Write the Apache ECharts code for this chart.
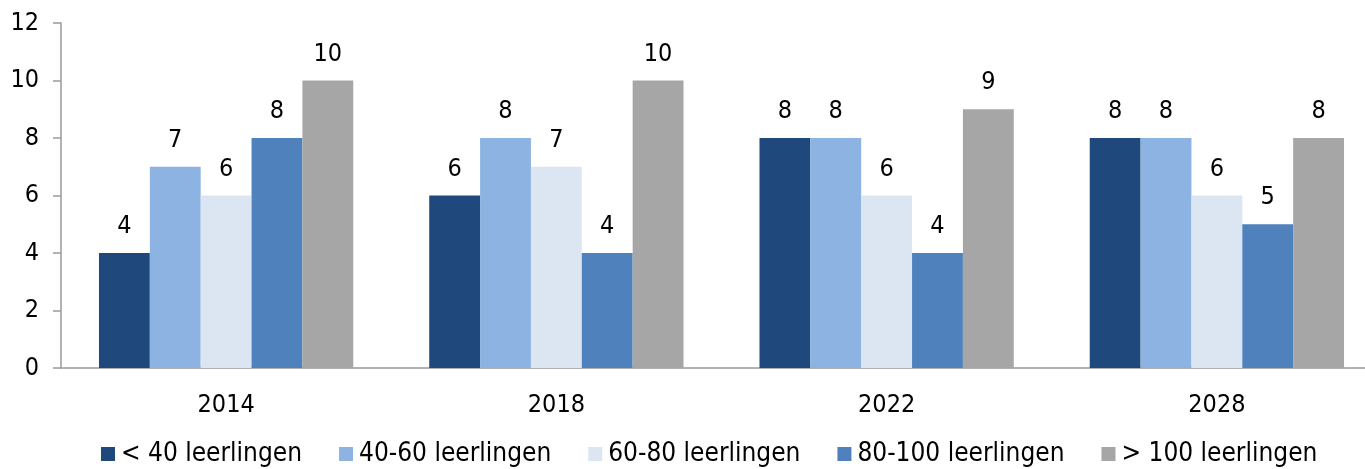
<!DOCTYPE html>
<html><head><meta charset="utf-8">
<script src="https://cdn.jsdelivr.net/npm/echarts@6/dist/echarts.min.js"></script>
<style>html,body{margin:0;padding:0;background:#fff;overflow:hidden}#c{width:1400px;height:469px}</style>
</head><body><div id="c"></div>
<script>
const categories = ['2014', '2018', '2022', '2028'];
const seriesNames = ['< 40 leerlingen', '40-60 leerlingen', '60-80 leerlingen', '80-100 leerlingen', '> 100 leerlingen'];
const lt40 = [4, 6, 8, 8];
const s40to60 = [7, 8, 8, 8];
const s60to80 = [6, 7, 6, 6];
const s80to100 = [8, 4, 4, 5];
const gt100 = [10, 10, 9, 8];
const yTicks = [0, 2, 4, 6, 8, 10, 12];
const colors = ['#1F497D', '#8DB3E2', '#DCE6F2', '#4F81BD', '#A6A6A6'];
const FONT = 'DejaVu Sans Condensed, DejaVu Sans, sans-serif';
const values = [lt40, s40to60, s60to80, s80to100, gt100];

const chart = echarts.init(document.getElementById('c'));
chart.setOption({
  animation: false,
  textStyle: { fontFamily: FONT },
  grid: { left: 61, right: 18, top: 23, height: 345, containLabel: false },
  legend: {
    top: 436, left: 96,
    itemWidth: 14, itemHeight: 14, itemGap: 37,
    icon: 'rect',
    textStyle: { fontFamily: FONT, fontSize: 26, color: '#000', padding: [0, 0, 0, 1] },
    data: seriesNames
  },
  xAxis: {
    type: 'category', data: categories,
    axisLine: { lineStyle: { color: '#9a9a9a', width: 1.5 } },
    axisTick: { length: 8, lineStyle: { color: '#9a9a9a', width: 1.5 } },
    axisLabel: { fontFamily: FONT, fontSize: 25, color: '#000', margin: 25 }
  },
  yAxis: {
    type: 'value', min: yTicks[0], max: yTicks[yTicks.length - 1], interval: 2,
    axisLine: { show: true, lineStyle: { color: '#9a9a9a', width: 1.5 } },
    axisTick: { show: true, length: 8, lineStyle: { color: '#9a9a9a', width: 1.5 } },
    splitLine: { show: false },
    axisLabel: { fontFamily: FONT, fontSize: 25, color: '#000', margin: 22 }
  },
  series: seriesNames.map((n, i) => ({
    name: n, type: 'bar', data: values[i],
    barGap: '0%', barCategoryGap: '23%',
    itemStyle: { color: colors[i] },
    label: { show: true, position: 'top', distance: 14, fontFamily: FONT, fontSize: 25, color: '#000' }
  }))
});
</script></body></html>
